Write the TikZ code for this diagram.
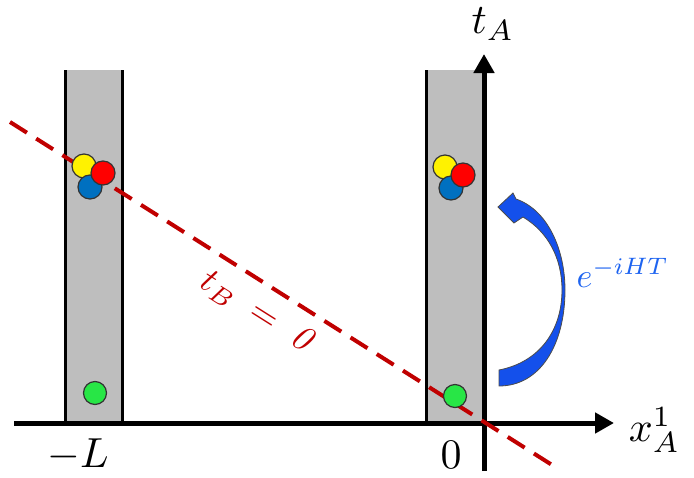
\documentclass[tikz,border=0pt]{standalone}
\usetikzlibrary{arrows.meta}
\definecolor{stripgray}{RGB}{190,190,190}
\definecolor{linered}{RGB}{192,0,0}
\definecolor{ballblue}{RGB}{0,112,192}
\definecolor{ballgreen}{RGB}{40,230,70}
\definecolor{evolblue}{RGB}{20,80,235}
\definecolor{labelblue}{RGB}{30,100,240}

\begin{document}
\begin{tikzpicture}[>={Triangle[length=19pt,width=20pt]},x=1pt,y=-1pt]
  \tikzstyle{strip}=[fill=stripgray]
  \tikzstyle{wall}=[line width=3pt]
  \tikzstyle{axis}=[line width=5pt,->]
  \tikzstyle{ball}=[circle,draw=black!80,line width=1.2pt,minimum size=24pt,inner sep=0pt]
  \tikzstyle{lbl}=[scale=4.2,inner sep=0pt]
  \useasboundingbox (0,0) rectangle (694,477);
  % traps
  \fill[strip] (65,70) rectangle (122,423);
  \fill[strip] (426,70) rectangle (484,423);
  \draw[wall] (65,70) -- (65,423);
  \draw[wall] (122,70) -- (122,423);
  \draw[wall] (426,70) -- (426,423);
  % axes
  \coordinate (xstart) at (14,423);
  \coordinate (xend) at (614,423);
  \coordinate (tstart) at (484,471);
  \coordinate (tend) at (484,54);
  \draw[axis] (xstart) -- (xend);
  \draw[axis] (tstart) -- (tend);
  % t_B = 0 slice
  \coordinate (slicestart) at (10,122);
  \coordinate (sliceend) at (560,470);
  \draw[linered,line width=4pt,dash pattern=on 20pt off 11pt] (slicestart) -- (sliceend);
  % particles
  \node[ball,fill=yellow] (yl) at (84,166) {};
  \node[ball,fill=ballblue] (bl) at (90,187) {};
  \node[ball,fill=red] (rl) at (103,173) {};
  \node[ball,fill=ballgreen,minimum size=23pt] (gl) at (95,393) {};
  \node[ball,fill=yellow] (yr) at (445,167) {};
  \node[ball,fill=ballblue] (br) at (451,188) {};
  \node[ball,fill=red] (rr) at (463,175) {};
  \node[ball,fill=ballgreen,minimum size=23pt] (gr) at (455,396) {};
  % evolution arrow
  \fill[evolblue,draw=black!70,line width=0.8pt]
    (499,370) .. controls (540,362) and (562,330) .. (562,290)
    .. controls (562,258) and (548,232) .. (523,217)
    -- (514,223) -- (498,207) -- (513,193) -- (516,199)
    .. controls (548,210) and (565,250) .. (565,290)
    .. controls (565,345) and (540,386) .. (499,386) -- cycle;
  % labels
  \node[lbl] (tA) at (493,24) {$t_A$};
  \node[lbl,anchor=west] (xA) at (628,430) {$x_A^1$};
  \node[lbl] (mL) at (78,455) {$-L$};
  \node[lbl] (zero) at (451,455) {$0$};
  \node[lbl,scale=3.4/4.2,text=labelblue,anchor=base west] (ev) at (576,287) {$e^{-iHT}$};
  \node[scale=3.6,inner sep=0pt,text=linered,rotate=-32.3] (tB) at (258,313) {$t_B\;=\;\mathit{0}$};
\end{tikzpicture}
\end{document}
